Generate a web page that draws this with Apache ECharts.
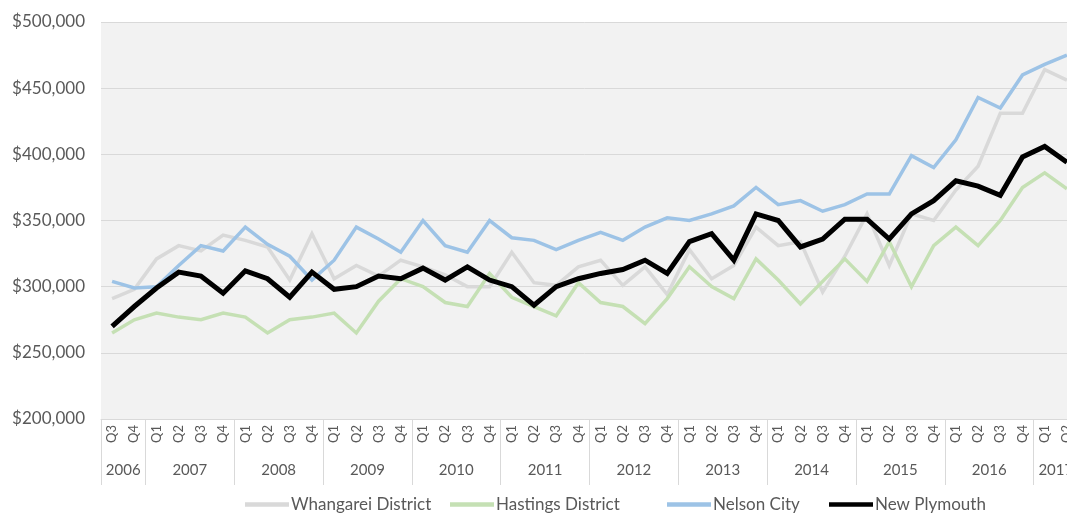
<!DOCTYPE html>
<html>
<head>
<meta charset="utf-8">
<script src="https://cdn.jsdelivr.net/npm/echarts@6/dist/echarts.min.js"></script>
<style>
html,body{margin:0;padding:0;background:#fff;overflow:hidden;}
#c{width:1067px;height:515px;}
</style>
</head>
<body>
<div id="c"></div>
<script>
// ---- data ----
const yearLabels = ['2006','2007','2008','2009','2010','2011','2012','2013','2014','2015','2016','2017'];
const yearQuarters = [
  ['Q3','Q4'],
  ['Q1','Q2','Q3','Q4'],['Q1','Q2','Q3','Q4'],['Q1','Q2','Q3','Q4'],['Q1','Q2','Q3','Q4'],['Q1','Q2','Q3','Q4'],
  ['Q1','Q2','Q3','Q4'],['Q1','Q2','Q3','Q4'],['Q1','Q2','Q3','Q4'],['Q1','Q2','Q3','Q4'],['Q1','Q2','Q3','Q4'],
  ['Q1','Q2']
];
const seriesNames = ['Whangarei District','Hastings District','Nelson City','New Plymouth'];
const whangarei = [291,298,321,331,327,339,335,330,305,340,306,316,308,320,315,309,300,300,326,303,301,315,320,301,315,294,328,306,316,345,331,334,296,323,355,316,355,350,373,391,431,431,464,456].map(v=>v*1000);
const hastings  = [265,275,280,277,275,280,277,265,275,277,280,265,289,306,300,288,285,310,292,285,278,303,288,285,272,291,315,300,291,321,305,287,304,321,304,334,300,331,345,331,350,375,386,374].map(v=>v*1000);
const nelson    = [304,299,300,316,331,327,345,332,323,305,320,345,336,326,350,331,326,350,337,335,328,335,341,335,345,352,350,355,361,375,362,365,357,362,370,370,399,390,411,443,435,460,468,475].map(v=>v*1000);
const newPlymouth = [270,285,299,311,308,295,312,306,292,311,298,300,308,306,314,305,315,305,300,286,300,306,310,313,320,310,334,340,320,355,350,330,336,351,351,336,355,365,380,376,369,398,406,394].map(v=>v*1000);
const yTicks = {min:200000, max:500000, step:50000};

// ---- derived ----
const quarterCats = [];
yearQuarters.forEach(q => q.forEach(x => quarterCats.push(x)));
const boundaries = [0];
const centers = [];
const centerYear = {};
let acc = 0;
yearQuarters.forEach((q,i) => {
  const c = acc + q.length/2;
  centers.push(c); centerYear[c] = yearLabels[i];
  acc += q.length; boundaries.push(acc);
});

const txt = '#595959';
const font = 'Lato, "Noto Sans", sans-serif';
const colors = ['#D9D9D9','#C5E0B4','#9DC3E6','#000000'];
const widths = [3.5,3.5,3.5,5];
const datas = [whangarei, hastings, nelson, newPlymouth];
const legendLefts = [240, 445, 662, 824];

const chart = echarts.init(document.getElementById('c'), null, {renderer:'canvas'});
chart.setOption({
  animation:false,
  backgroundColor:'#ffffff',
  textStyle:{fontFamily:font},
  grid:{left:101, top:22, width:977, height:397, show:true, backgroundColor:'#F2F2F2', borderWidth:0,
        containLabel:false, outerBoundsMode:'none'},
  legend: seriesNames.map((n,i)=>({
    data:[n], left:legendLefts[i], top:491, itemWidth:44, itemHeight:14, itemGap:0,
    textStyle:{color:txt, fontSize:17, fontFamily:font, padding:[0,0,0,-3]},
    icon:'path://M0,0 L10,0 L10,1 L0,1 Z'
  })),
  xAxis:[
    {type:'category', data:quarterCats, boundaryGap:true, position:'bottom',
     axisLine:{show:true, lineStyle:{color:'#D9D9D9', width:1}},
     axisTick:{show:false},
     axisLabel:{rotate:90, color:txt, fontSize:13, margin:6, interval:0, fontFamily:font},
     splitLine:{show:false}},
    {type:'value', min:0, max:quarterCats.length, position:'bottom',
     axisLine:{show:false},
     axisTick:{show:true, customValues:boundaries, length:66, lineStyle:{color:'#D9D9D9', width:1}},
     axisLabel:{show:true, customValues:centers, margin:44, color:txt, fontSize:15, fontFamily:font,
       formatter:v=>centerYear[v] || ''},
     splitLine:{show:false}}
  ],
  yAxis:{type:'value', min:yTicks.min, max:yTicks.max, interval:yTicks.step,
    axisLine:{show:false}, axisTick:{show:false},
    axisLabel:{color:txt, fontSize:17, margin:16, fontFamily:font,
      formatter:v=>'$'+v.toLocaleString('en-US')},
    splitLine:{show:true, lineStyle:{color:'#D9D9D9', width:1}}},
  series: seriesNames.map((n,i)=>({
    name:n, type:'line', xAxisIndex:0, data:datas[i], symbol:'none', smooth:false,
    lineStyle:{color:colors[i], width:widths[i], join:'miter'}, itemStyle:{color:colors[i]},
    z: i===3 ? 5 : 2
  }))
});
</script>
</body>
</html>
